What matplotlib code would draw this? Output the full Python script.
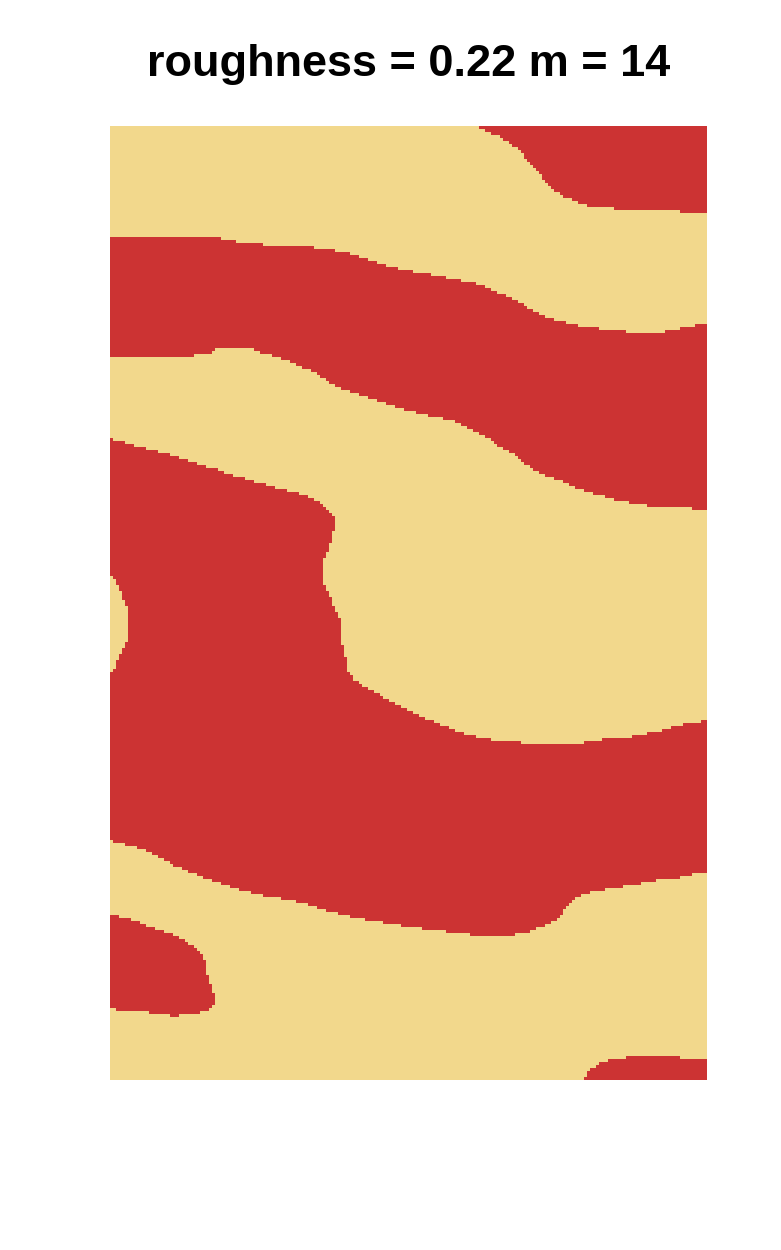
import numpy as np
import matplotlib
matplotlib.use("Agg")
import matplotlib.pyplot as plt
from matplotlib.path import Path
from matplotlib.colors import ListedColormap

# map extent (map units), x to the east, d = depth from the top edge
map_w, map_h = 597, 954
cell = 3

# boundary lines, (x, d)
edge_top_right = [(366, 0), (373, 4), (380, 7), (390, 11), (397, 15), (403, 20), (410, 25),
                  (415, 31), (420, 37), (425, 42), (430, 48), (435, 56), (440, 62), (448, 67),
                  (457, 72), (467, 76), (477, 80), (490, 82), (550, 84), (578, 86), (597, 88)]

edge_band2_top = [(0, 110), (86, 110), (108, 112), (123, 115), (136, 117), (160, 119), (189, 119),
                  (207, 122), (223, 124), (237, 127), (256, 133), (274, 139), (291, 143), (312, 147),
                  (342, 153), (365, 157), (383, 164), (398, 171), (410, 177), (422, 184), (437, 191),
                  (457, 197), (476, 201), (511, 205), (542, 208), (564, 204), (583, 200), (597, 198)]

edge_band2_bot = [(0, 232), (71, 232), (86, 229), (100, 227), (107, 222), (141, 222), (152, 227),
                  (166, 231), (180, 236), (192, 241), (205, 247), (219, 256), (231, 262), (246, 267),
                  (262, 273), (285, 281), (305, 286), (324, 291), (342, 294), (353, 299), (367, 306),
                  (379, 312), (390, 321), (402, 327), (414, 337), (429, 347), (445, 353), (461, 359),
                  (476, 366), (496, 371), (515, 376), (539, 380), (566, 382), (597, 383)]

edge_band3_top = [(0, 313), (14, 316), (26, 320), (45, 325), (62, 329), (76, 334), (90, 339),
                  (106, 343), (122, 349), (137, 353), (153, 358), (168, 362), (188, 367), (201, 372),
                  (211, 377), (217, 382), (223, 389), (225, 394), (223, 409), (219, 424), (215, 432),
                  (212, 437), (212, 456), (219, 467), (225, 484), (231, 494), (231, 516), (235, 527),
                  (237, 542), (244, 554), (254, 561), (266, 567), (281, 576), (297, 584), (312, 591),
                  (328, 597), (348, 606), (367, 611), (390, 615), (418, 617), (472, 617), (496, 613),
                  (527, 610), (550, 605), (574, 598), (591, 596), (597, 594)]

edge_band3_bot = [(0, 715), (9, 717), (26, 721), (40, 726), (51, 732), (67, 741), (87, 749),
                  (106, 756), (125, 762), (145, 768), (168, 772), (192, 777), (215, 784), (242, 791),
                  (270, 796), (301, 801), (332, 805), (363, 809), (402, 809), (418, 806), (433, 800),
                  (445, 794), (453, 786), (457, 779), (465, 771), (480, 766), (503, 762), (527, 758),
                  (550, 754), (574, 751), (589, 747), (597, 747)]

hole_left = [(0, 449), (7, 457), (12, 469), (17, 481), (19, 487), (19, 512), (16, 517),
             (12, 524), (8, 534), (5, 542), (0, 547)]

blob_low_left = [(0, 788), (12, 791), (28, 796), (44, 802), (59, 807), (75, 814), (85, 822),
                 (92, 829), (95, 834), (95, 844), (100, 857), (104, 867), (104, 879), (98, 884),
                 (83, 888), (63, 890), (44, 887), (26, 885), (0, 883)]

blob_low_right = [(474, 954), (478, 944), (484, 941), (492, 936), (503, 933), (521, 931),
                  (566, 931), (577, 933), (597, 933)]

classes = ["habitat", "matrix"]
colours = ["#F2D88C", "#CC3333"]
title = "roughness = 0.22 m = 14"


def closed(pts, extra):
    return Path(pts + extra + [pts[0]])


red_parts = [
    closed(edge_top_right, [(map_w, 0)]),
    closed(edge_band2_top, edge_band2_bot[::-1]),
    closed(edge_band3_top, edge_band3_bot[::-1]),
    closed(blob_low_left, []),
    closed(blob_low_right, [(map_w, map_h)]),
]
yellow_parts = [closed(hole_left, [])]

xc = np.arange(cell / 2, map_w, cell)
dc = np.arange(cell / 2, map_h, cell)
gx, gd = np.meshgrid(xc, dc)
pts = np.column_stack([gx.ravel(), gd.ravel()])

grid = np.zeros(len(pts), dtype=int)
for p in red_parts:
    grid[p.contains_points(pts)] = 1
for p in yellow_parts:
    grid[p.contains_points(pts)] = 0
grid = grid.reshape(gx.shape)

plt.rcParams['font.family'] = ['Liberation Sans', 'DejaVu Sans']
fig = plt.figure(figsize=(7.81, 12.5), dpi=100)
ax = fig.add_axes([110 / 781, 170 / 1250, 597 / 781, 954 / 1250])
ax.imshow(grid, cmap=ListedColormap(colours), vmin=0, vmax=1,
          extent=[0, map_w, map_h, 0], interpolation="nearest", aspect="auto")
ax.set_xlim(0, map_w)
ax.set_ylim(map_h, 0)
ax.axis("off")
fig.text(408.5 / 781, 1 - 76 / 1250, title, ha="center", va="baseline",
         fontsize=32.5, fontweight="bold")
fig.savefig("out.png", dpi=100)
